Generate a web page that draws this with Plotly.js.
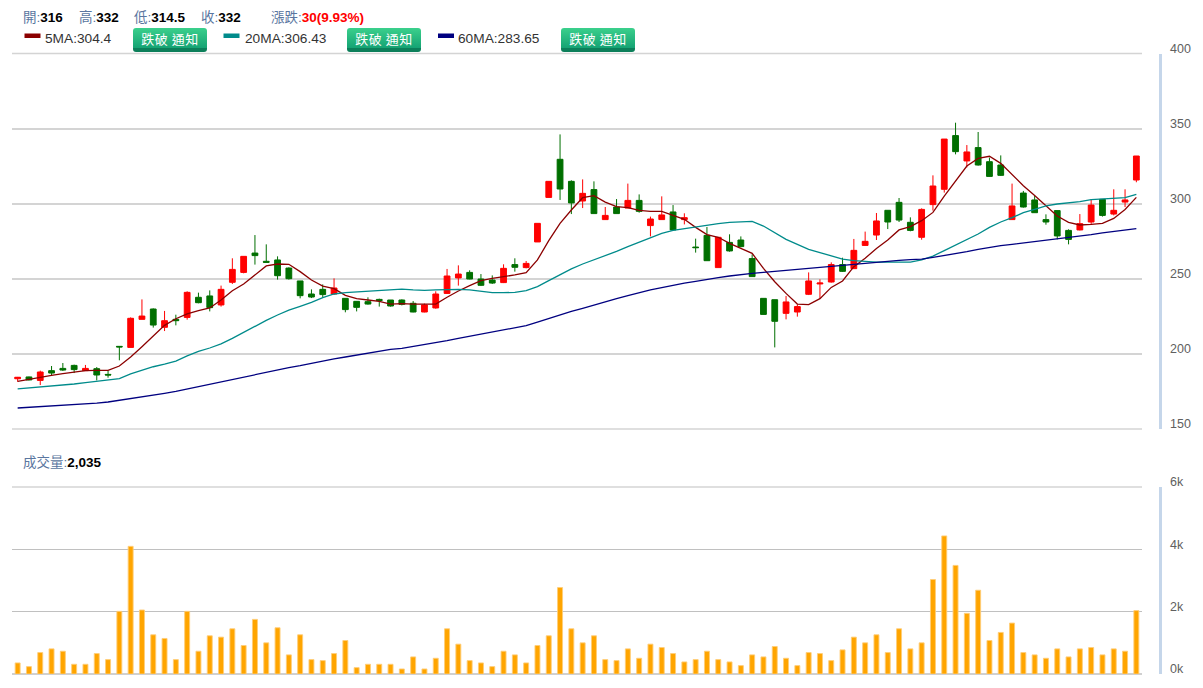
<!DOCTYPE html>
<html><head><meta charset="utf-8">
<script src="https://cdn.plot.ly/plotly-3.0.1.min.js"></script>
<style>
html,body{margin:0;padding:0;background:#fff;width:1203px;height:688px;overflow:hidden}
#chart{position:absolute;left:0;top:0;width:1203px;height:688px}
.btn{position:absolute;top:28px;width:74px;height:24px;box-sizing:border-box;border-radius:3px;
 background:linear-gradient(#3bd08c,#14a273 85%,#0c7f5a 85%);color:#fff;font:13px/22px "Noto Sans CJK TC",sans-serif;text-align:center;letter-spacing:.5px;white-space:nowrap}
</style></head><body>
<div id="chart"></div>
<div class="btn" style="left:133px">跌破 通知</div>
<div class="btn" style="left:347px">跌破 通知</div>
<div class="btn" style="left:561px">跌破 通知</div>
<script>
const open_ =[183.5,184.7,182.4,188.9,190.4,192.4,188.9,190.2,186.4,205.1,204.4,223.1,230,217.8,223.1,224.4,237.8,238.7,232.7,247.8,254.4,267.3,261.8,262.7,257.3,248.7,240,243.1,240,237.1,235.1,234.9,236.4,236,
236,233.8,228,230.7,240.4,250.7,254.4,250,249.3,247.6,259.6,257.6,274.7,304.4,329.8,315.1,302,309.6,289.6,298,297.3,302.4,285.6,289.6,294.7,289.6,271.3,279.1,257.6,274.4,276,263.6,237.1,236.2,227.1,228,
239.8,246.7,248,259.6,256.9,272.4,279.3,295.8,301.1,287.8,277.8,299.6,309.8,345.6,328.7,337.6,328.2,326,289.6,307.3,302.7,289.6,295.6,282.4,282.7,288,303.1,293.3,301.3,316];
const high_ =[184.7,184.9,188.9,192,194,192.9,192.7,191.3,188.9,205.1,224.4,236.4,230.4,228.7,226.2,241.8,240.9,242.4,245.6,263.8,265.1,279.3,273.1,265.1,257.8,248.7,243.1,246.4,250.4,237.1,235.1,237.8,236.9,236,
236.4,235.3,233.6,241.8,256.7,259.1,255.8,253.3,252.4,259.8,263.8,262,287.1,315.1,346.4,315.8,316.4,315.1,298,303.3,313.6,306.4,291.6,305.1,299.3,293.8,276.9,284.7,277.8,279.8,278.4,266.4,237.1,236.2,238.7,233.1,
254.4,249.8,261.1,264.2,276.7,281.6,294,295.8,304,291.1,297.1,319.1,343.3,354.2,339.3,348,330.9,332.4,313.6,308.7,305.3,293.1,295.6,283.1,293.3,303.1,303.1,309.8,309.8,332];
const low_ =[181.5,182.4,179.3,185.6,188.7,187.3,188.9,182.4,184.2,195.8,204.4,223.1,217.6,215.3,219.1,222.9,233.8,228.4,231.6,246.7,253.8,259.6,261.1,249.6,249.6,237.1,237.3,237.6,239.6,227.8,228.4,232.9,231.6,231.6,
232.4,227.8,227.8,230.2,240,245.6,249.8,245.3,246.7,247.3,254.9,257.1,274.7,304.4,302.7,293.3,297.3,293.6,289.6,293.6,297.3,294.2,278.4,289.6,282.4,286.4,267.6,262.2,257.6,268.2,271.1,251.6,226.4,204.4,223.1,224.9,
239.3,237.1,247.6,254.7,256.9,272.2,276,283.3,288,281.8,276.2,295.6,307.6,333.1,324.4,325.6,318.2,318.7,289.6,297.6,294.2,286.2,276.4,273.1,282.4,286.7,291.6,292.4,298,314.5];
const close_=[184.5,182.7,188,187.3,189.3,189.6,190.4,186,186,204.7,223.8,225.3,219.3,222.2,222.2,241.1,234.2,230.9,243.1,256.4,265.1,265.6,261.1,252.2,250.2,238.9,238,239.6,244,229.6,231.1,233.3,235.6,232,
233.1,228,232.7,240,252,253.3,250,245.8,247.3,257.1,257.8,260.4,287.1,315.1,310,300.7,307.1,293.6,292.4,293.6,302.4,295.1,290,292.7,282.7,290.9,270.9,262.2,277.8,268.7,271.6,251.6,226.4,221.8,234.7,231.6,
248.7,247.3,259.6,255.1,269.1,275.1,288.7,288,289.3,282.4,296.4,312,343.3,334.9,334.7,326,318.4,319.1,298.7,298,294.2,288,278.7,276.4,286.9,299.3,292.4,295.8,302.7,332];
const ma5 =[181.8,183.3,184.7,185.8,186.9,188,188.9,189.1,189.1,192,198,204.9,212.2,219.1,223.5,226.7,228.9,230.7,236,242.2,246.7,252.7,258.7,260,259.8,254.9,249.3,245.3,243.6,239.1,236.9,236,235.1,233.3,
233.6,233.3,233.1,233.3,237.8,242,245.6,248.9,250.4,251.3,252.7,254.2,262.7,275.6,287.1,296,304.2,305.6,301.3,298.2,297.6,295.8,295.1,295.1,292.7,289.8,284.4,279.6,277.8,273.8,270.4,267.1,257.1,248.2,240.4,233.3,
232.9,236.9,244.4,248.7,258.2,263.8,270.4,276,282.7,284.9,288.9,294.4,305.3,315.6,325.3,330.4,331.8,327.1,319.3,312.2,305.6,298.7,292,287.8,286,286.4,287.1,290.4,296.4,304.4];
const ma20=[176.7,177.3,178,178.7,179.3,180,180.9,181.8,182.4,183.6,186.7,189.3,191.5,193.3,195.3,198.7,201.8,204,206.7,210.4,214.4,218.7,222.4,226,229.3,231.8,234.4,237.6,240,240.9,241.3,241.8,242.2,242.7,
243.3,242.7,242.4,242.7,243.1,243.1,242.7,241.8,240.9,240.9,241.1,242.2,244.9,248.9,252.9,256.7,260,262.7,265.6,268.4,271.6,274.7,277.6,280.4,282.4,283.6,284.7,285.8,286.9,287.8,288.2,288.4,285.3,280.9,276.4,273.1,
269.8,267.6,265.6,263.3,262.2,261.6,261.3,261.3,261.3,261.3,262.7,265.3,268.9,272.7,276,280,284.4,288,290.9,294.2,296.4,298.7,300,300.7,301.6,302.9,303.3,303.8,304.2,306.4];
const ma60=[164,164.4,164.9,165.3,165.8,166.2,166.7,167.3,168,169.1,170,171.1,172.4,173.8,175.1,176.7,178.2,179.8,181.3,182.9,184.7,186.4,188,189.6,190.9,192.2,193.8,195.1,196.7,198,199.3,200.7,202,203.1,
203.7,204.9,206.2,207.3,208.9,210.4,211.8,213.3,214.7,216,217.6,218.9,221.3,223.8,226.2,228.4,230.4,232.7,234.9,236.9,238.9,240.9,242.7,244.2,246,247.3,248.4,249.8,250.9,252,253.1,253.8,254.4,255.1,255.8,256.2,
256.9,257.6,258.2,258.9,259.8,260.7,261.1,261.8,262.4,262.9,263.3,264.4,265.6,266.9,268.2,269.8,271.1,272.2,273.1,274,274.9,275.8,276.7,277.3,278.4,279.6,280.7,281.6,282.7,283.65];
const volume=[355,236,688,806,731,312,312,656,462,2010,4096,2053,1258,1140,462,2010,731,1226,1183,1451,914,1752,1000,1484,613,1258,462,430,656,1075,204,312,312,312,161,548,161,505,1451,957,430,355,236,731,613,355,914,1226,2774,1451,1000,1226,
462,430,806,505,957,849,656,387,462,731,462,387,269,613,548,882,505,269,688,656,430,774,1183,1000,1258,688,1451,806,1000,3032,4430,3484,1946,2688,1075,1333,1634,688,613,505,806,548,806,849,613,806,731,2035];
const priceTicks=[150,200,250,300,350,400];
const volumeTicks=[0,2000,4000,6000];
const volumeTickText=['0k','2k','4k','6k'];
const maColors={ma5:'#8B0000',ma20:'#008B8B',ma60:'#000080'};
const upColor='#FF0000',downColor='#006F00',volColor='#FFA500';
const W=1203,H=688;
const idx=volume.map((_,i)=>i);
const px=v=>v/W, py=v=>1-v/H;
const gridPrice='#d4d4d4', gridVol='#c0c0c0', axisBlue='#c5d6ea', tickFont={family:'"Liberation Sans",Arial,sans-serif',size:12.5,color:'#606060'};
const labelBlue='#5a76a0';
const seg=(a,b)=>`<span style="color:${labelBlue}">${a}:</span><b style="color:#000">${b}</b>`;
function note(x,y,text,size,color){return {xref:'paper',yref:'paper',x:px(x),y:py(y),xanchor:'left',yanchor:'middle',showarrow:false,text,
 font:{family:'"Liberation Sans","Noto Sans CJK TC",sans-serif',size:size||13.5,color:color||'#333'}}}
function swatch(x,c){return {type:'rect',xref:'paper',yref:'paper',x0:px(x),x1:px(x+16),y0:py(38),y1:py(33.5),fillcolor:c,line:{width:0}}}
function edge(y,c){return {type:'line',layer:'below',xref:'paper',yref:'paper',x0:px(12),x1:px(1142),y0:py(y),y1:py(y),line:{color:c,width:1.5}}}
const data=[
 {type:'candlestick',name:'K',x:idx,open:open_,high:high_,low:low_,close:close_,xaxis:'x',yaxis:'y',whiskerwidth:0,
  increasing:{line:{color:upColor,width:1},fillcolor:upColor},decreasing:{line:{color:downColor,width:1},fillcolor:downColor},hoverinfo:'skip'},
 {type:'scatter',mode:'lines',name:'5MA',x:idx,y:ma5,line:{color:maColors.ma5,width:1.3},xaxis:'x',yaxis:'y',hoverinfo:'skip'},
 {type:'scatter',mode:'lines',name:'20MA',x:idx,y:ma20,line:{color:maColors.ma20,width:1.3},xaxis:'x',yaxis:'y',hoverinfo:'skip'},
 {type:'scatter',mode:'lines',name:'60MA',x:idx,y:ma60,line:{color:maColors.ma60,width:1.3},xaxis:'x',yaxis:'y',hoverinfo:'skip'},
 {type:'bar',name:'成交量',x:idx,y:volume,xaxis:'x2',yaxis:'y2',marker:{color:volColor,line:{color:'rgba(255,205,120,.9)',width:1}},hoverinfo:'skip'}
];
const yAxisCommon={anchor:'free',side:'right',position:px(1159.5),showline:true,linecolor:axisBlue,linewidth:3,showgrid:true,
 zeroline:false,ticks:'',ticklabelposition:'outside',ticklabelshift:-5,ticklabelstandoff:6,tickfont:tickFont,tickmode:'array',fixedrange:true};
const layout={
 width:W,height:H,margin:{l:0,r:0,t:0,b:0,pad:0},paper_bgcolor:'#fff',plot_bgcolor:'#fff',showlegend:false,bargap:.56,boxgap:.27,
 xaxis:{domain:[px(12),px(1142)],range:[-.5,99.5],anchor:'y',visible:false,rangeslider:{visible:false},fixedrange:true},
 xaxis2:{domain:[px(12),px(1142)],range:[-.5,99.5],anchor:'y2',visible:false,fixedrange:true},
 yaxis:Object.assign({},yAxisCommon,{domain:[py(429),py(54)],range:[150,400],tickvals:priceTicks,ticktext:priceTicks.map(String),gridcolor:gridPrice,gridwidth:1.5}),
 yaxis2:Object.assign({},yAxisCommon,{domain:[py(674),py(487)],range:[0,6000],tickvals:volumeTicks,ticktext:volumeTickText,gridcolor:gridVol,gridwidth:1.2}),
 shapes:[swatch(24.5,maColors.ma5),swatch(223.5,maColors.ma20),swatch(438,maColors.ma60),
  edge(53.5,gridPrice),edge(429,gridPrice),edge(487,gridPrice),edge(674,gridVol)],
 annotations:[
  note(21,17,seg('開','316')),note(77,17,seg('高','332')),note(132,17,seg('低','314.5')),note(199,17,seg('收','332')),
  note(269,17,`<span style="color:${labelBlue}">漲跌:</span><b style="color:#FF0000">30(9.93%)</b>`),
  note(43,39,'5MA:304.4',13.7),note(243,39,'20MA:306.43',13.7),note(456,39,'60MA:283.65',13.7),
  note(21,462,seg('成交量','2,035'))
 ]
};
Plotly.newPlot('chart',data,layout,{displayModeBar:false,staticPlot:true});
</script></body></html>
